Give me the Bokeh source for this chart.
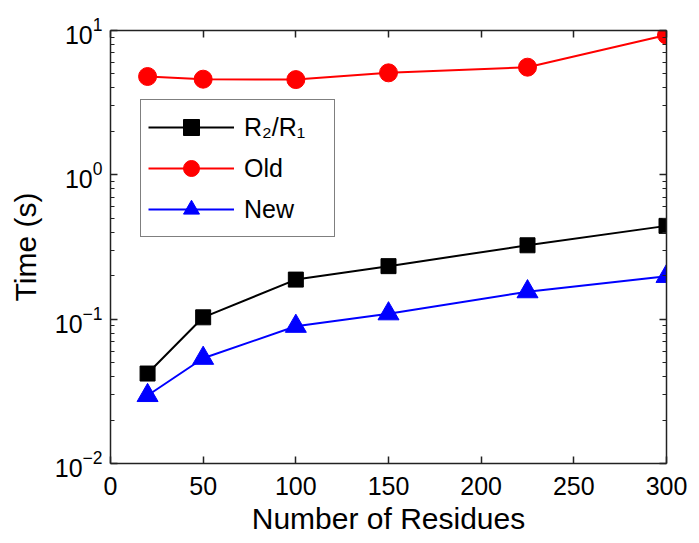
from bokeh.plotting import figure
from bokeh.models import (LogAxis, LinearAxis, FixedTicker, Legend, LegendItem,
                          Range1d, CustomJSTickFormatter)
from bokeh.embed import file_html
from bokeh.resources import INLINE

# ---- data ----
residues = [20, 50, 100, 150, 225, 300]
t_r2r1 = [0.042, 0.103, 0.188, 0.233, 0.325, 0.443]
t_old = [4.8, 4.6, 4.57, 5.09, 5.57, 9.3]
t_new = [0.0296, 0.0536, 0.0893, 0.109, 0.155, 0.198]
x_ticks = [0, 50, 100, 150, 200, 250, 300]
y_ticks = [0.01, 0.1, 1, 10]
y_minor = [m * d for d in [0.01, 0.1, 1] for m in range(2, 10)]
series_labels = ["R\u2082/R\u2081", "Old", "New"]

FONT = "Liberation Sans"

p = figure(width=699, height=543, y_axis_type="log",
           x_range=Range1d(0, 300), y_range=Range1d(0.01, 10),
           output_backend="svg", toolbar_location=None,
           min_border_left=110, min_border_right=33,
           min_border_top=30, min_border_bottom=80)
p.grid.visible = False
p.outline_line_color = None
p.background_fill_color = "white"
p.border_fill_color = "white"

def style_axis(ax, log=False):
    ax.axis_line_color = "#222222"
    ax.axis_line_width = 1.5
    ax.major_tick_line_color = "#222222"
    ax.major_tick_line_width = 1.5
    ax.major_tick_in = 7
    ax.major_tick_out = 0
    if log:
        ax.minor_tick_line_color = "#222222"
        ax.minor_tick_line_width = 1.2
        ax.minor_tick_in = 4
        ax.minor_tick_out = 0
    else:
        ax.minor_tick_line_color = None
    ax.major_label_text_font = FONT
    ax.major_label_text_font_size = "25px"
    ax.major_label_text_color = "black"
    ax.axis_label_text_font = FONT
    ax.axis_label_text_font_size = "30px"
    ax.axis_label_text_font_style = "normal"
    ax.axis_label_text_color = "black"

xa = p.xaxis[0]
xa.ticker = FixedTicker(ticks=x_ticks)
xa.axis_label = "Number of Residues"
xa.major_label_standoff = 13
xa.axis_label_standoff = 4
style_axis(xa)

ya = p.yaxis[0]
ya.ticker = FixedTicker(ticks=y_ticks, minor_ticks=y_minor)
ya.axis_label = "Time (s)"
ya.major_label_standoff = 8
ya.axis_label_standoff = 10
style_axis(ya, log=True)

blank = CustomJSTickFormatter(code="return ''")
top = LinearAxis(ticker=FixedTicker(ticks=x_ticks), formatter=blank)
style_axis(top)
top.major_label_text_font_size = "0px"
p.add_layout(top, "above")

right = LogAxis(ticker=FixedTicker(ticks=y_ticks, minor_ticks=y_minor), formatter=blank)
style_axis(right, log=True)
right.major_label_text_font_size = "0px"
p.add_layout(right, "right")

# ---- series ----
lb = p.line(residues, t_r2r1, line_color="black", line_width=2)
mb = p.scatter(residues, t_r2r1, marker="square", size=15,
               fill_color="black", line_color="black")
lr = p.line(residues, t_old, line_color="#ff0000", line_width=2)
mr = p.scatter(residues, t_old, marker="circle", size=18,
               fill_color="#ff0000", line_color="#ff0000")
ln = p.line(residues, t_new, line_color="#0000ff", line_width=2)
mn = p.scatter(residues, t_new, marker="triangle", size=21,
               fill_color="#0000ff", line_color="#0000ff")

legend = Legend(items=[
    LegendItem(label=series_labels[0], renderers=[lb, mb]),
    LegendItem(label=series_labels[1], renderers=[lr, mr]),
    LegendItem(label=series_labels[2], renderers=[ln, mn]),
], location=(30, 226))
legend.border_line_color = "black"
legend.border_line_width = 1.2
legend.background_fill_color = "white"
legend.background_fill_alpha = 1
legend.label_text_font = FONT
legend.label_text_font_size = "25px"
legend.label_text_color = "black"
legend.glyph_width = 86
legend.glyph_height = 40
legend.label_height = 40
legend.label_width = 83
legend.label_standoff = 10
legend.spacing = 1
legend.padding = 7
legend.margin = 0
p.add_layout(legend, "center")

open("out.html", "w").write(file_html(p, INLINE))
